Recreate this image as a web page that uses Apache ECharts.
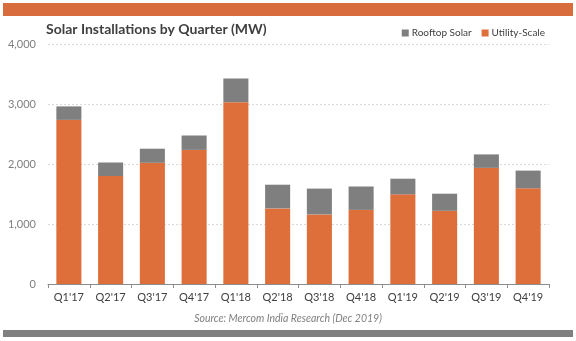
<!DOCTYPE html>
<html>
<head>
<meta charset="utf-8">
<script src="https://cdn.jsdelivr.net/npm/echarts@6/dist/echarts.min.js"></script>
<style>
  html, body { margin: 0; padding: 0; background: #fff; }
  #chart { width: 576px; height: 341px; }
</style>
</head>
<body>
<div id="chart"></div>
<script>
// Quarterly solar installations in India (MW)
const quarters = ["Q1'17", "Q2'17", "Q3'17", "Q4'17", "Q1'18", "Q2'18",
                  "Q3'18", "Q4'18", "Q1'19", "Q2'19", "Q3'19", "Q4'19"];
const utilityScale = [2735, 1800, 2020, 2235, 3030, 1260, 1160, 1235, 1495, 1220, 1935, 1595];
const rooftopSolar = [225, 225, 235, 240, 395, 395, 430, 390, 260, 285, 225, 295];
const yTicks = [0, 1000, 2000, 3000, 4000];

const FONT = 'Lato, "Open Sans", sans-serif';
const ORANGE = '#DE6E3A';
const GRAY = '#7F7F7F';

const chart = echarts.init(document.getElementById('chart'), null, { renderer: 'canvas' });

chart.setOption({
  backgroundColor: '#ffffff',
  animation: false,
  title: {
    text: 'Solar Installations by Quarter (MW)',
    left: 41,
    top: 17,
    textStyle: { fontFamily: FONT, fontSize: 14, fontWeight: 'bold', color: '#404040' }
  },
  legend: {
    data: ['Rooftop Solar', 'Utility-Scale'],
    right: 26,
    top: 23,
    itemWidth: 7,
    itemHeight: 7,
    itemGap: 10,
    icon: 'rect',
    textStyle: { fontFamily: FONT, fontSize: 10, color: '#404040', padding: [0, 0, 0, -2] }
  },
  grid: { left: 48, right: 27, top: 44, bottom: 57 },
  xAxis: {
    type: 'category',
    data: quarters,
    axisLine: { lineStyle: { color: '#8c8c8c', width: 1 } },
    axisTick: { show: true, alignWithLabel: false, length: 4, lineStyle: { color: '#8c8c8c' } },
    axisLabel: { fontFamily: FONT, fontSize: 11, color: '#404040', margin: 8 }
  },
  yAxis: {
    type: 'value',
    min: yTicks[0],
    max: yTicks[yTicks.length - 1],
    interval: 1000,
    axisLine: { show: false },
    axisTick: { show: false },
    axisLabel: {
      fontFamily: FONT, fontSize: 11, color: '#7f7f7f', margin: 12,
      formatter: v => v.toLocaleString('en-US')
    },
    splitLine: { lineStyle: { color: '#d9d9d9', type: [2, 2] } }
  },
  series: [
    {
      name: 'Utility-Scale',
      type: 'bar',
      stack: 'total',
      data: utilityScale,
      barWidth: '60%',
      itemStyle: { color: ORANGE }
    },
    {
      name: 'Rooftop Solar',
      type: 'bar',
      stack: 'total',
      data: rooftopSolar,
      barWidth: '60%',
      itemStyle: { color: GRAY }
    }
  ],
  graphic: [
    { type: 'rect', shape: { x: 3, y: 3, width: 570, height: 13 }, style: { fill: '#D96C3C' } },
    { type: 'rect', shape: { x: 3, y: 330, width: 570, height: 7 }, style: { fill: '#808080' } },
    {
      type: 'text', x: 288, y: 319,
      style: {
        text: 'Source: Mercom India Research (Dec 2019)',
        fontFamily: FONT, fontSize: 10.5, fontStyle: 'italic', fill: '#7f7f7f',
        textAlign: 'center', textVerticalAlign: 'middle'
      }
    }
  ]
});
</script>
</body>
</html>
